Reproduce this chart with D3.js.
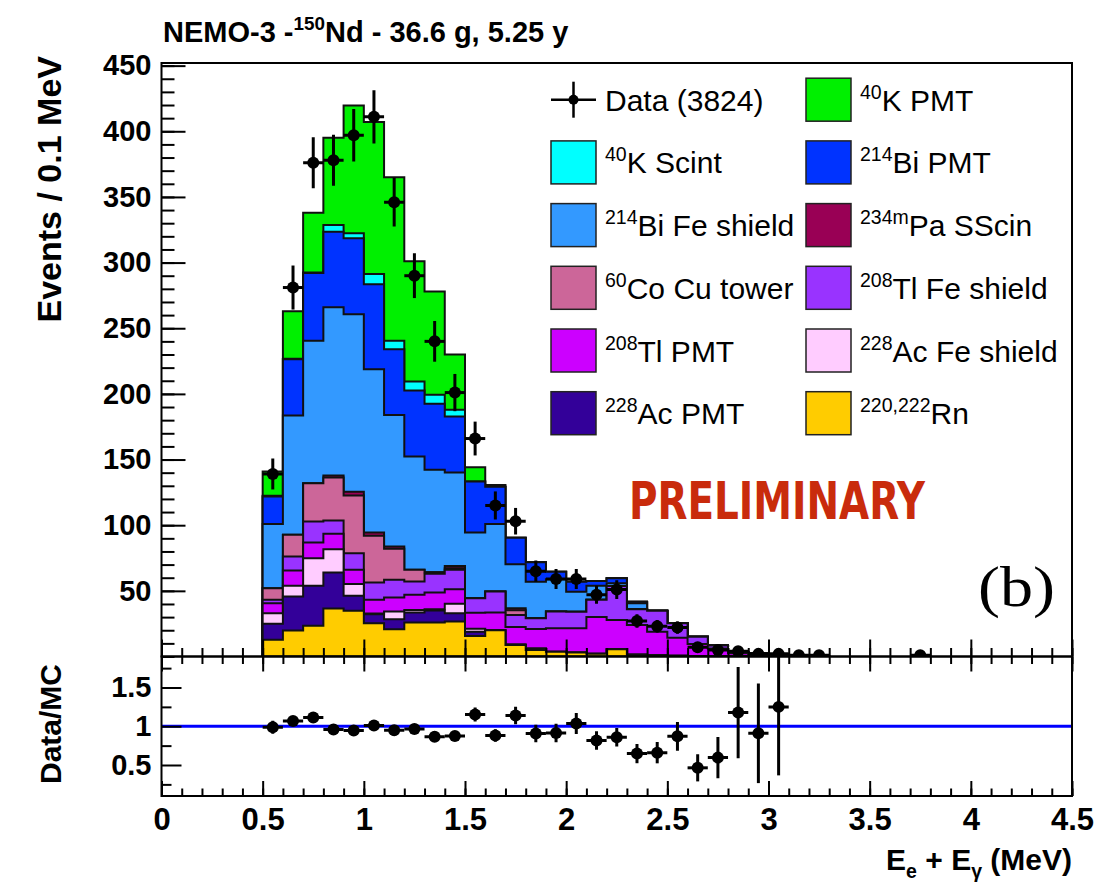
<!DOCTYPE html>
<html>
<head>
<meta charset="utf-8">
<script src="https://cdn.jsdelivr.net/npm/d3@7"></script>
<style>
    body { margin: 0; background: #fff; }
    svg text { font-family: "Liberation Sans", Arial, Helvetica, sans-serif; white-space: pre; }
</style>
</head>
<body>
<div id="chart"></div>
<script>
// MC bins (0.1 MeV wide), centres
var mcBins = [0.55, 0.65, 0.75, 0.85, 0.95, 1.05, 1.15, 1.25, 1.35, 1.45, 1.55, 1.65, 1.75, 1.85,
    1.95, 2.05, 2.15, 2.25, 2.35, 2.45, 2.55, 2.65, 2.75, 2.85, 2.95, 3.05, 3.15, 3.25];

// MC components, bottom of the stack first
var rn = [12.7, 19.8, 23.4, 36.6, 34.8, 25.4, 20.8, 25.9, 25.9, 26.7, 15.7, 20.0, 8.8, 5.0,
    3.7, 3.0, 2.0, 5.5, 1.0, 1.0, 0.5, 0, 0, 0, 0, 0, 0, 0];
var ac228Pmt = [12.2, 25.9, 30.4, 27.4, 11.4, 6.8, 7.6, 7.6, 9.1, 6.3, 3.2, 0, 0, 1.0,
    0, 0, 0, 0, 0.5, 0, 0, 0, 0, 0, 0, 0, 0, 0];
var ac228Fe = [8.1, 8.1, 21.1, 17.7, 9.1, 0.5, 5.9, 2.0, 1.0, 7.1, 2.3, 0, 0.5, 0,
    0, 0, 0, 0, 0, 0, 0, 0, 0, 0, 0, 0, 0, 0];
var tl208Pmt = [7.6, 11.7, 11.9, 11.7, 10.7, 10.5, 10.6, 11.5, 12.7, 11.2, 12.2, 13.5, 13.2, 15.0,
    17.9, 18.6, 28.0, 22.3, 22.5, 17.9, 13.8, 9.5, 6.0, 2.4, 1.6, 1.2, 0.3, 0.2];
var tl208Fe = [2.6, 10.7, 16.0, 10.2, 12.7, 13.2, 13.5, 10.1, 14.3, 14.7, 10.9, 16.0, 9.1, 8.1,
    12.7, 12.5, 13.2, 25.9, 11.9, 16.0, 11.0, 5.6, 2.4, 1.0, 0.6, 0.4, 0.1, 0];
var co60 = [8.8, 16.5, 29.2, 32.7, 43.9, 35.5, 23.6, 8.9, 1.2, 1.3, 0, 0, 3.6, 0,
    0, 0, 0, 0, 0, 0, 0, 0, 0, 0, 0, 0, 0, 0];
var pa234m = [0, 0, 0, 1.6, 2.8, 2.5, 1.8, 0, 0, 1.7, 0, 0, 1.5, 0,
    0, 0, 0, 0, 0, 0, 0, 0, 0, 0, 0, 0, 0, 0];
var bi214Fe = [49.0, 90.8, 108.5, 128.1, 135.2, 124.3, 100.2, 86.3, 78.0, 71.1, 50.1, 51.5, 33.5, 27.9,
    24.6, 15.3, 10.6, 2.0, 4.6, 0, 0, 0, 0, 0, 0, 0, 0, 0];
var bi214Pmt = [20.9, 42.8, 51.5, 57.5, 57.9, 64.8, 50.0, 50.3, 50.2, 42.7, 38.9, 28.3, 20.3, 14.7,
    5.7, 7.6, 3.7, 3.8, 1.2, 0, 0, 0, 0, 0, 0, 0, 0, 0];
var k40Scint = [0.6, 0.5, 0.5, 5.1, 3.8, 7.8, 6.5, 6.8, 6.9, 5.1, 0, 0, 0, 0,
    0, 0, 0, 0, 0, 0, 0, 0, 0, 0, 0, 0, 0, 0];
var k40Pmt = [18.4, 36.2, 45.5, 66.4, 97.3, 115.7, 124.5, 91.6, 78.7, 42.1, 10.9, 1.3, 0, 0,
    0, 0, 0, 0, 0, 0, 0, 0, 0, 0, 0, 0, 0, 0];

// data, events per bin
var dataBins = [0.55, 0.65, 0.75, 0.85, 0.95, 1.05, 1.15, 1.25, 1.35, 1.45, 1.55, 1.65, 1.75, 1.85,
    1.95, 2.05, 2.15, 2.25, 2.35, 2.45, 2.55, 2.65, 2.75, 2.85, 2.95, 3.05, 3.15, 3.25,
    3.35, 3.45, 3.55, 3.65, 3.75];
var dataCounts = [139, 281, 376, 378, 397, 411, 346, 290, 240, 201, 166, 115, 103, 65,
    59, 59, 47, 51, 27, 23, 22, 7, 5, 4, 2, 2, 1, 1,
    0, 0, 0, 0, 1];

var xTickLabels = [0, 0.5, 1, 1.5, 2, 2.5, 3, 3.5, 4, 4.5];
var yTickLabels = [50, 100, 150, 200, 250, 300, 350, 400, 450];
var ratioTickLabels = [0.5, 1, 1.5];

var stackKeys = ['rn', 'ac228Pmt', 'ac228Fe', 'tl208Pmt', 'tl208Fe', 'co60', 'pa234m',
    'bi214Fe', 'bi214Pmt', 'k40Scint', 'k40Pmt'];
var stackColors = {
    rn: '#ffcc00', ac228Pmt: '#330099', ac228Fe: '#ffccff', tl208Pmt: '#cc00ff',
    tl208Fe: '#9933ff', co60: '#cc6699', pa234m: '#990055', bi214Fe: '#3399ff',
    bi214Pmt: '#0033ff', k40Scint: '#00ffff', k40Pmt: '#00f000'
};
// legend, ROOT style two columns filled row by row
var legendKeys = ['data', 'k40Pmt', 'k40Scint', 'bi214Pmt', 'bi214Fe', 'pa234m',
    'co60', 'tl208Fe', 'tl208Pmt', 'ac228Fe', 'ac228Pmt', 'rn'];
var legendLabels = ['Data (3824)', '^{40}K PMT', '^{40}K Scint', '^{214}Bi PMT', '^{214}Bi Fe shield',
    '^{234m}Pa SScin', '^{60}Co Cu tower', '^{208}Tl Fe shield', '^{208}Tl PMT',
    '^{228}Ac Fe shield', '^{228}Ac PMT', '^{220,222}Rn'];

var width = 1106, height = 886;
var frame = {left: 161.5, right: 1072, top: 63, mid: 656.5, bottom: 796};
var binHalf = 0.05;

var svg = d3.select('#chart').append('svg')
    .attr('width', width)
    .attr('height', height);

var x = d3.scaleLinear().domain([0, 4.5]).range([frame.left, frame.right]);
var y = d3.scaleLinear().domain([0, 452]).range([frame.mid, frame.top]);
var yr = d3.scaleLinear().domain([0.1, 1.9]).range([frame.bottom, frame.mid]);

// text with ^{..} and _{..} parts
function richText(sel, str, size) {
    var parts = str.split(/(\^\{[^}]*\}|_\{[^}]*\})/).filter(function (p) { return p.length; });
    var shift = 0;
    parts.forEach(function (p) {
        var target = 0, fs = size;
        if (p[0] === '^') { target = -0.4 * size; fs = 0.65 * size; p = p.slice(2, -1); }
        else if (p[0] === '_') { target = 0.28 * size; fs = 0.65 * size; p = p.slice(2, -1); }
        sel.append('tspan').attr('dy', target - shift).attr('font-size', fs).text(p);
        shift = target;
    });
}

svg.append('clipPath').attr('id', 'mainClip').append('rect')
    .attr('x', frame.left).attr('y', frame.top)
    .attr('width', frame.right - frame.left).attr('height', frame.mid - frame.top);
svg.append('clipPath').attr('id', 'ratioClip').append('rect')
    .attr('x', frame.left).attr('y', frame.mid)
    .attr('width', frame.right - frame.left).attr('height', frame.bottom - frame.mid);

//draw stacked MC
var table = mcBins.map(function (c, i) {
    return {
        c: c, rn: rn[i], ac228Pmt: ac228Pmt[i], ac228Fe: ac228Fe[i], tl208Pmt: tl208Pmt[i],
        tl208Fe: tl208Fe[i], co60: co60[i], pa234m: pa234m[i], bi214Fe: bi214Fe[i],
        bi214Pmt: bi214Pmt[i], k40Scint: k40Scint[i], k40Pmt: k40Pmt[i]
    };
});
var series = d3.stack().keys(stackKeys)(table);
var mcTotal = series[series.length - 1].map(function (d) { return d[1]; });

var histArea = d3.area()
    .x(function (d) { return x(d.x); })
    .y0(y(0))
    .y1(function (d) { return y(d.v); });

var histLayer = svg.append('g').attr('clip-path', 'url(#mainClip)');
series.slice().reverse().forEach(function (s) {
    var pts = [];
    s.forEach(function (d) {
        pts.push({x: d.data.c - binHalf, v: d[1]});
        pts.push({x: d.data.c + binHalf, v: d[1]});
    });
    histLayer.append('path')
        .attr('d', histArea(pts))
        .attr('fill', stackColors[s.key])
        .attr('stroke', '#111')
        .attr('stroke-width', 2)
        .attr('stroke-linejoin', 'miter');
});
//end stacked MC

//draw data points
var dataLayer = svg.append('g').attr('clip-path', 'url(#mainClip)');
dataBins.forEach(function (c, i) {
    var n = dataCounts[i];
    if (n <= 0) return;
    var err = Math.sqrt(n);
    dataLayer.append('line')
        .attr('x1', x(c)).attr('x2', x(c))
        .attr('y1', y(n - err)).attr('y2', y(n + err))
        .attr('stroke', '#000').attr('stroke-width', 3);
    dataLayer.append('line')
        .attr('x1', x(c - binHalf)).attr('x2', x(c + binHalf))
        .attr('y1', y(n)).attr('y2', y(n))
        .attr('stroke', '#000').attr('stroke-width', 3);
    dataLayer.append('circle')
        .attr('cx', x(c)).attr('cy', y(n)).attr('r', 6)
        .attr('fill', '#000');
});
//end data

//draw ratio panel
var ratioLayer = svg.append('g').attr('clip-path', 'url(#ratioClip)');
ratioLayer.append('line')
    .attr('x1', frame.left).attr('x2', frame.right)
    .attr('y1', yr(1)).attr('y2', yr(1))
    .attr('stroke', '#0000ff').attr('stroke-width', 3);
dataBins.forEach(function (c, i) {
    var n = dataCounts[i];
    var mc = i < mcTotal.length ? mcTotal[i] : 0;
    if (n <= 0 || mc <= 0) return;
    var r = n / mc;
    var err = Math.sqrt(n) / mc;
    if (r < yr.domain()[0] || r > yr.domain()[1]) return;
    ratioLayer.append('line')
        .attr('x1', x(c)).attr('x2', x(c))
        .attr('y1', yr(r - err)).attr('y2', yr(r + err))
        .attr('stroke', '#000').attr('stroke-width', 3);
    ratioLayer.append('line')
        .attr('x1', x(c - binHalf)).attr('x2', x(c + binHalf))
        .attr('y1', yr(r)).attr('y2', yr(r))
        .attr('stroke', '#000').attr('stroke-width', 3);
    ratioLayer.append('circle')
        .attr('cx', x(c)).attr('cy', yr(r)).attr('r', 6)
        .attr('fill', '#000');
});
//end ratio

//axes
var minorX = d3.range(0, 46).map(function (i) { return i / 10; });
function styleAxis(g, fontSize) {
    g.select('.domain').remove();
    g.selectAll('line').attr('stroke', '#000').attr('stroke-width', 2);
    g.selectAll('text')
        .attr('fill', '#000')
        .attr('font-size', fontSize)
        .attr('font-weight', 'bold');
}

// main panel bottom ticks
svg.append('g').attr('transform', 'translate(0,' + frame.mid + ')')
    .call(d3.axisBottom(x).tickValues(minorX).tickSize(-8.5).tickFormat(''))
    .call(styleAxis, 0);
svg.append('g').attr('transform', 'translate(0,' + frame.mid + ')')
    .call(d3.axisBottom(x).tickValues(xTickLabels).tickSize(-17).tickFormat(''))
    .call(styleAxis, 0);
// main panel left axis
svg.append('g').attr('transform', 'translate(' + frame.left + ',0)')
    .call(d3.axisLeft(y).tickValues(d3.range(0, 46).map(function (i) { return i * 10; })).tickSize(-13).tickFormat(''))
    .call(styleAxis, 0);
svg.append('g').attr('transform', 'translate(' + frame.left + ',0)')
    .call(d3.axisLeft(y).tickValues(yTickLabels).tickSize(-24).tickPadding(10))
    .call(styleAxis, 29);

// ratio panel top and bottom ticks
svg.append('g').attr('transform', 'translate(0,' + frame.mid + ')')
    .call(d3.axisTop(x).tickValues(minorX).tickSize(-7.5).tickFormat(''))
    .call(styleAxis, 0);
svg.append('g').attr('transform', 'translate(0,' + frame.mid + ')')
    .call(d3.axisTop(x).tickValues(xTickLabels).tickSize(-15).tickFormat(''))
    .call(styleAxis, 0);
svg.append('g').attr('transform', 'translate(0,' + frame.bottom + ')')
    .call(d3.axisBottom(x).tickValues(minorX).tickSize(-7.5).tickFormat(''))
    .call(styleAxis, 0);
svg.append('g').attr('transform', 'translate(0,' + frame.bottom + ')')
    .call(d3.axisBottom(x).tickValues(xTickLabels).tickSize(-15).tickPadding(12).tickFormat(String))
    .call(styleAxis, 31);
// ratio left axis
svg.append('g').attr('transform', 'translate(' + frame.left + ',0)')
    .call(d3.axisLeft(yr).tickValues([0.25, 0.75, 1.25, 1.75]).tickSize(-10).tickFormat(''))
    .call(styleAxis, 0);
svg.append('g').attr('transform', 'translate(' + frame.left + ',0)')
    .call(d3.axisLeft(yr).tickValues(ratioTickLabels).tickSize(-20).tickPadding(10).tickFormat(String))
    .call(styleAxis, 29);

//frames
svg.append('rect')
    .attr('x', frame.left).attr('y', frame.top)
    .attr('width', frame.right - frame.left).attr('height', frame.mid - frame.top)
    .attr('fill', 'none').attr('stroke', '#000').attr('stroke-width', 2);
svg.append('rect')
    .attr('x', frame.left).attr('y', frame.mid)
    .attr('width', frame.right - frame.left).attr('height', frame.bottom - frame.mid)
    .attr('fill', 'none').attr('stroke', '#000').attr('stroke-width', 2);

//titles
var title = svg.append('text')
    .attr('x', 163).attr('y', 42)
    .attr('font-weight', 'bold');
richText(title, 'NEMO-3 -^{150}Nd - 36.6 g, 5.25 y', 29);

svg.append('text')
    .attr('transform', 'translate(61,56) rotate(-90)')
    .attr('text-anchor', 'end')
    .attr('font-weight', 'bold')
    .attr('font-size', 34)
    .text('Events / 0.1 MeV');

svg.append('text')
    .attr('transform', 'translate(61,664) rotate(-90)')
    .attr('text-anchor', 'end')
    .attr('font-weight', 'bold')
    .attr('font-size', 30)
    .text('Data/MC');

var xTitle = svg.append('text')
    .attr('x', frame.right).attr('y', 870)
    .attr('text-anchor', 'end')
    .attr('font-weight', 'bold');
richText(xTitle, 'E_{e} + E_{\u03b3} (MeV)', 30);

//legend
var legend = svg.append('g');
legendKeys.forEach(function (key, i) {
    var col = i % 2, row = Math.floor(i / 2);
    var bx = col === 0 ? 551 : 806;
    var cy = 99.7 + row * 62.7;
    if (key === 'data') {
        legend.append('line').attr('x1', bx).attr('x2', bx + 45).attr('y1', cy).attr('y2', cy)
            .attr('stroke', '#000').attr('stroke-width', 2.5);
        legend.append('line').attr('x1', bx + 22.5).attr('x2', bx + 22.5).attr('y1', cy - 18).attr('y2', cy + 18)
            .attr('stroke', '#000').attr('stroke-width', 2.5);
        legend.append('circle').attr('cx', bx + 22.5).attr('cy', cy).attr('r', 5).attr('fill', '#000');
    } else {
        legend.append('rect')
            .attr('x', bx).attr('y', cy - 21.5)
            .attr('width', 45).attr('height', 43)
            .attr('fill', stackColors[key])
            .attr('stroke', '#222').attr('stroke-width', 1.5);
    }
    var t = legend.append('text')
        .attr('x', bx + 54).attr('y', cy + 11);
    richText(t, legendLabels[i], 30);
});

//stamps
svg.append('text')
    .attr('x', 629).attr('y', 518.5)
    .style('font-family', '"Liberation Sans Narrow", "DejaVu Sans Condensed", sans-serif')
    .attr('font-weight', 'bold')
    .attr('font-size', 52)
    .attr('fill', '#c92b0c')
    .attr('textLength', 296)
    .attr('lengthAdjust', 'spacingAndGlyphs')
    .text('PRELIMINARY');

svg.append('text')
    .attr('x', 978).attr('y', 606)
    .style('font-family', '"Liberation Serif", "DejaVu Serif", serif')
    .attr('font-size', 56)
    .attr('fill', '#000')
    .attr('textLength', 77)
    .attr('lengthAdjust', 'spacingAndGlyphs')
    .text('(b)');
</script>
</body>
</html>
